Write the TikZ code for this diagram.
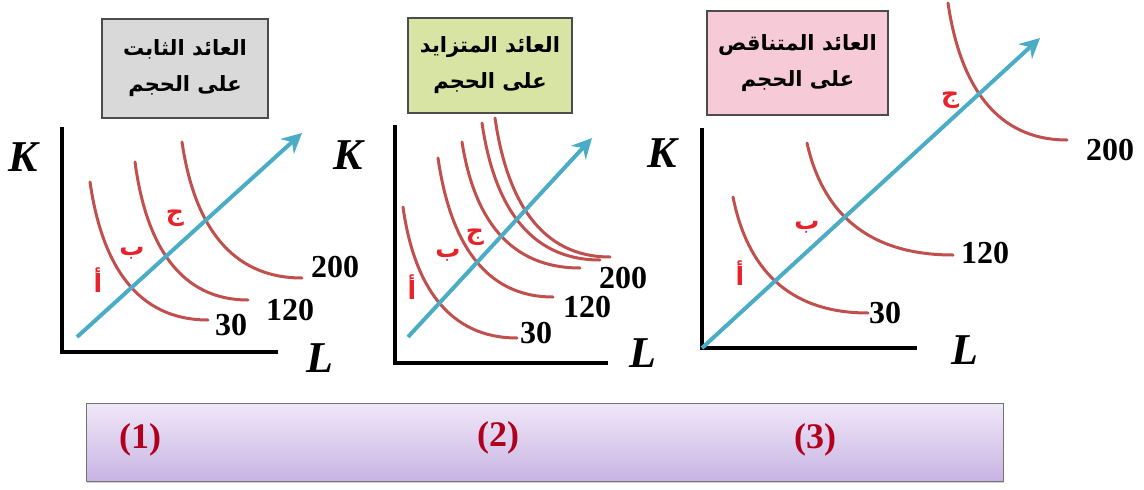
\documentclass[tikz,border=0pt]{standalone}
\usepackage{fontspec}
\setmainfont{Liberation Serif}
\newfontfamily\ar[Script=Arabic]{DejaVu Sans Bold}
\TeXXeTstate=1
\usetikzlibrary{arrows.meta,shadows}
\definecolor{isored}{HTML}{C0504D}
\definecolor{rayblue}{HTML}{4BACC6}
\definecolor{ptred}{HTML}{E8222A}
\definecolor{numred}{HTML}{B0001E}
\definecolor{boxgray}{HTML}{D9D9D9}
\definecolor{boxgreen}{HTML}{D7E4A4}
\definecolor{boxpink}{HTML}{F6CAD6}
\definecolor{bartop}{HTML}{F0E8F8}
\definecolor{barbot}{HTML}{C8B4E4}
\begin{document}
\begin{tikzpicture}[x=1pt,y=-1pt,
  axis/.style={line width=4pt, black, line join=miter},
  iso/.style={line width=3pt, draw=isored, line cap=round},
  ray/.style={line width=4pt, draw=rayblue, -{Stealth[length=20pt,width=20pt]}},
  titlebox/.style={draw=black!70, line width=1.5pt, align=center, inner sep=0pt,
    font=\ar\fontsize{21}{36}\selectfont},
  num/.style={anchor=west, inner sep=0pt, font=\bfseries\fontsize{32}{32}\selectfont},
  axlab/.style={inner sep=0pt, font=\bfseries\itshape\fontsize{44}{44}\selectfont},
  ptlab/.style={inner sep=0pt, text=ptred, font=\ar\fontsize{25}{25}\selectfont},
  caselab/.style={inner sep=0pt, text=numred, font=\bfseries\fontsize{36}{36}\selectfont}
]
\useasboundingbox (0,0) rectangle (1144,490);

% ---------- titles ----------
\node[titlebox, fill=boxgray, minimum width=166, minimum height=99] (t1) at (185,68.5)
  {\beginR العائد الثابت\endR\\\beginR على الحجم\endR};
\node[titlebox, fill=boxgreen, minimum width=164, minimum height=95] (t2) at (490,65.5)
  {\beginR العائد المتزايد\endR\\\beginR على الحجم\endR};
\node[titlebox, fill=boxpink, minimum width=181, minimum height=104] (t3) at (797.5,63)
  {\beginR العائد المتناقص\endR\\\beginR على الحجم\endR};

% ---------- panel 1 ----------
\coordinate (y1) at (62,127); \coordinate (x1) at (278,352);
\draw[axis] (y1) |- (x1);
\node[axlab] (K1) at (23,157) {K};
\node[axlab] (L1) at (320,358) {L};
\coordinate (p1a) at (90,182);  \coordinate (p1b) at (208,320);
\coordinate (p1c) at (135,162); \coordinate (p1d) at (248,300);
\coordinate (p1e) at (182,142); \coordinate (p1f) at (302,278);
\draw[iso] (p1a) .. controls +(12,83) and +(-71,0) .. (p1b);
\draw[iso] (p1c) .. controls +(11,83) and +(-68,0) .. (p1d);
\draw[iso] (p1e) .. controls +(12,82) and +(-72,0) .. (p1f);
\coordinate (r1s) at (77,337); \coordinate (r1e) at (302,133);
\draw[ray] (r1s) -- (r1e);
\node[num] (n1a) at (215,325) {30};
\node[num] (n1b) at (266,310) {120};
\node[num] (n1c) at (311,267) {200};
\node[ptlab] (a1) at (98,280) {\beginR أ\endR};
\node[ptlab] (b1) at (132,253) {\beginR ب\endR};
\node[ptlab] (c1) at (175,218) {\beginR ج\endR};

% ---------- panel 2 ----------
\coordinate (y2) at (395,125); \coordinate (x2) at (608,363);
\draw[axis] (y2) |- (x2);
\node[axlab] (K2) at (348,155) {K};
\node[axlab] (L2) at (643,353) {L};
\coordinate (p2a) at (403,207); \coordinate (p2b) at (517,338);
\coordinate (p2c) at (438,158); \coordinate (p2d) at (553,297);
\coordinate (p2e) at (462,142); \coordinate (p2f) at (580,268);
\coordinate (p2g) at (482,123); \coordinate (p2h) at (600,260);
\coordinate (p2i) at (495,118); \coordinate (p2j) at (610,257);
\draw[iso] (p2a) .. controls +(11,79) and +(-68,0) .. (p2b);
\draw[iso] (p2c) .. controls +(12,83) and +(-69,0) .. (p2d);
\draw[iso] (p2e) .. controls +(12,76) and +(-71,0) .. (p2f);
\draw[iso] (p2g) .. controls +(12,82) and +(-71,0) .. (p2h);
\draw[iso] (p2i) .. controls +(12,83) and +(-69,0) .. (p2j);
\coordinate (r2s) at (408,337); \coordinate (r2e) at (592,138);
\draw[ray] (r2s) -- (r2e);
\node[num] (n2a) at (520,333) {30};
\node[num] (n2b) at (563,307) {120};
\node[num] (n2c) at (599,278) {200};
\node[ptlab] (a2) at (412,287) {\beginR أ\endR};
\node[ptlab] (b2) at (448,255) {\beginR ب\endR};
\node[ptlab] (c2) at (475,237) {\beginR ج\endR};

% ---------- panel 3 ----------
\coordinate (y3) at (702,128); \coordinate (x3) at (917,348);
\draw[axis] (y3) |- (x3);
\node[axlab] (K3) at (662,153) {K};
\node[axlab] (L3) at (965,350) {L};
\coordinate (p3a) at (733,197); \coordinate (p3b) at (868,313);
\coordinate (p3c) at (807,143); \coordinate (p3d) at (953,255);
\coordinate (p3e) at (948,3);   \coordinate (p3f) at (1067,140);
\draw[iso] (p3a) .. controls +(14,70) and +(-81,0) .. (p3b);
\draw[iso] (p3c) .. controls +(15,67) and +(-88,0) .. (p3d);
\draw[iso] (p3e) .. controls +(12,82) and +(-71,0) .. (p3f);
\coordinate (r3s) at (702,348); \coordinate (r3e) at (1040,38);
\draw[ray] (r3s) -- (r3e);
\node[num] (n3a) at (869,313) {30};
\node[num] (n3b) at (961,253) {120};
\node[num] (n3c) at (1086,150) {200};
\node[ptlab] (a3) at (740,273) {\beginR أ\endR};
\node[ptlab] (b3) at (807,227) {\beginR ب\endR};
\node[ptlab] (c3) at (950,100) {\beginR ج\endR};

% ---------- bottom bar ----------
\node[draw=black!55, line width=1pt, top color=bartop, bottom color=barbot,
  drop shadow={shadow xshift=1pt, shadow yshift=-2pt, opacity=0.35},
  minimum width=917, minimum height=78, inner sep=0pt] (bar) at (544.5,442) {};
\node[caselab] (m1) at (140,440) {(1)};
\node[caselab] (m2) at (498,438) {(2)};
\node[caselab] (m3) at (815,440) {(3)};
\end{tikzpicture}
\end{document}
